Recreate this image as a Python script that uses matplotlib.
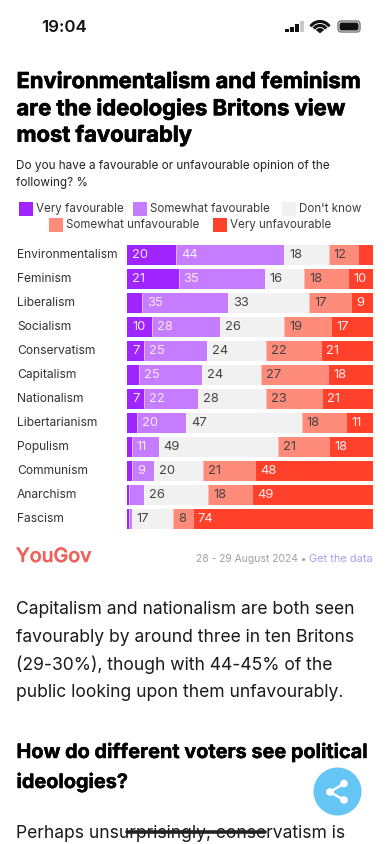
import numpy as np
import matplotlib
matplotlib.use('Agg')
import matplotlib.pyplot as plt
import matplotlib.patheffects as pe
from matplotlib.patches import Circle, Rectangle, FancyBboxPatch, Arc

plt.rcParams['font.family'] = ['Inter', 'DejaVu Sans']

# data
ideologies = ['Environmentalism', 'Feminism', 'Liberalism', 'Socialism', 'Conservatism', 'Capitalism',
              'Nationalism', 'Libertarianism', 'Populism', 'Communism', 'Anarchism', 'Fascism']
very_fav = [20, 21, 6, 10, 7, 5, 7, 4, 2, 2, 1, 1]
some_fav = [44, 35, 35, 28, 25, 25, 22, 20, 11, 9, 6, 1]
dont_know = [18, 16, 33, 26, 24, 24, 28, 47, 49, 20, 26, 17]
some_unfav = [12, 18, 17, 19, 22, 27, 23, 18, 21, 21, 18, 8]
very_unfav = [6, 10, 9, 17, 21, 18, 21, 11, 18, 48, 49, 74]

series_names = ['Very favourable', 'Somewhat favourable', "Don't know", 'Somewhat unfavourable', 'Very unfavourable']
colors = ['#a024ff', '#c67cff', '#f1f1f1', '#ff8b7b', '#ff412b']
label_colors = ['#f4e8ff', '#f6ecff', '#444444', '#444444', '#ffeeee']

title_lines = ['Environmentalism and feminism', 'are the ideologies Britons view', 'most favourably']
body_lines = ['Capitalism and nationalism are both seen', 'favourably by around three in ten Britons',
              '(29-30%), though with 44-45% of the', 'public looking upon them unfavourably.']

W, H = 390, 844
fig = plt.figure(figsize=(W / 100, H / 100), dpi=100, facecolor='white')

# page layer in pixel coordinates
page = fig.add_axes([0, 0, 1, 1])
page.set_xlim(0, W)
page.set_ylim(H, 0)
page.axis('off')


def txt(x, y, s, size, color='#111111', weight='normal', ha='left', stroke=0):
    t = page.text(x, y, s, fontsize=size, color=color, fontweight=weight, ha=ha, va='center')
    if stroke:
        t.set_path_effects([pe.withStroke(linewidth=stroke, foreground=color)])
    return t


# status bar
txt(41, 27, '19:04', 12.2, '#111111', 'semibold')
for i, h in enumerate([3, 5, 8, 11]):
    page.add_patch(Rectangle((285 + i * 5, 32 - h), 3.6, h, color='#111111' if i < 3 else '#c8c8c8', lw=0))
for r in [3.5, 7.5, 11.5]:
    page.add_patch(Arc((320, 33), r * 2, r * 2, theta1=215, theta2=325, color='#111111', lw=2.2))
page.add_patch(Circle((320, 31.5), 1.5, color='#111111', lw=0))
page.add_patch(FancyBboxPatch((338, 21), 22, 11, boxstyle='round,pad=0,rounding_size=3', fc='white', ec='#555555', lw=0.8))
page.add_patch(FancyBboxPatch((339.5, 22.5), 19, 8, boxstyle='round,pad=0,rounding_size=2', fc='#111111', lw=0))

# title and question
for i, line in enumerate(title_lines):
    txt(16.5, 82 + i * 26.7, line, 15.8, '#000000', 'bold', stroke=0.5)
txt(16.5, 166, 'Do you have a favourable or unfavourable opinion of the', 8.45, '#222222')
txt(16.5, 183, 'following? %', 8.45, '#222222')

# legend, two centred rows
leg_pos = [(19, 209), (133, 209), (282, 209), (49, 225), (213, 225)]
for name, c, (lx, ly) in zip(series_names, colors, leg_pos):
    page.add_patch(Rectangle((lx, ly - 7), 14, 14, color=c, lw=0))
    txt(lx + 17, ly + 0.3, name, 8.35, '#3c3c3c')

# chart
ax = fig.add_axes([127 / W, 1 - 531.3 / H, 246 / W, 288 / H])
y = np.arange(len(ideologies))
rows = np.array([very_fav, some_fav, dont_know, some_unfav, very_unfav], dtype=float)
totals = rows.sum(axis=0)
left = np.zeros(len(ideologies))
for vals, c, lc in zip(rows, colors, label_colors):
    widths = vals / totals * 100
    ax.barh(y, widths, left=left, height=20 / 24, color=c, edgecolor='none')
    ax.vlines(left[left > 0], y[left > 0] - 10 / 24, y[left > 0] + 10 / 24, color='white', lw=0.5, alpha=0.6)
    for yi, v, l in zip(y, vals, left):
        if v >= 7:
            ax.annotate(f'{v:.0f}', (l, yi), xytext=(3.6, 0), textcoords='offset points', fontsize=9.3,
                        color=lc, va='center', ha='left')
    left += widths
ax.set_xlim(0, 100)
ax.set_ylim(len(ideologies) - 0.5, -0.5)
# category names, left aligned at the page margin
for yi, name in zip(y, ideologies):
    ax.annotate(name, (0, yi), xytext=(-79.2, 1), textcoords='offset points', fontsize=8.7,
                color='#333333', va='center_baseline', ha='left', annotation_clip=False)
ax.set_xticks([])
ax.set_yticks([])
for s in ax.spines.values():
    s.set_visible(False)
ax.patch.set_alpha(0)

# footer of the chart
txt(16, 557, 'YouGov', 14.2, '#f0615a', 'medium', stroke=0.3)
txt(307, 558.5, '28 - 29 August 2024 \u2022', 7.5, '#a0a0a0', ha='right')
txt(373, 558.5, 'Get the data', 7.9, '#a89cf0', ha='right')

# article text
for i, line in enumerate(body_lines):
    txt(16.5, 610 + i * 27.4, line, 12.6, '#1a1a1a')
txt(16.5, 752.5, 'How do different voters see political', 14.3, '#000000', 'bold', stroke=0.3)
txt(16.5, 782.5, 'ideologies?', 14.3, '#000000', 'bold', stroke=0.3)
txt(16.5, 833.5, 'Perhaps unsurprisingly, conservatism is', 12.6, '#1a1a1a')
page.plot([127, 265], [832, 832], color='#222222', lw=2.6, solid_capstyle='round', zorder=5)

# share button
page.add_patch(Circle((337.5, 791.5), 24, color='#65c6f5', lw=0, zorder=6))
pts = [(330, 792), (344, 783.5), (344, 800)]
for p in pts[1:]:
    page.plot([pts[0][0], p[0]], [pts[0][1], p[1]], color='white', lw=1.8, zorder=7)
for p in pts:
    page.add_patch(Circle(p, 3.8, color='white', lw=0, zorder=8))

fig.savefig('out.png', dpi=100)
